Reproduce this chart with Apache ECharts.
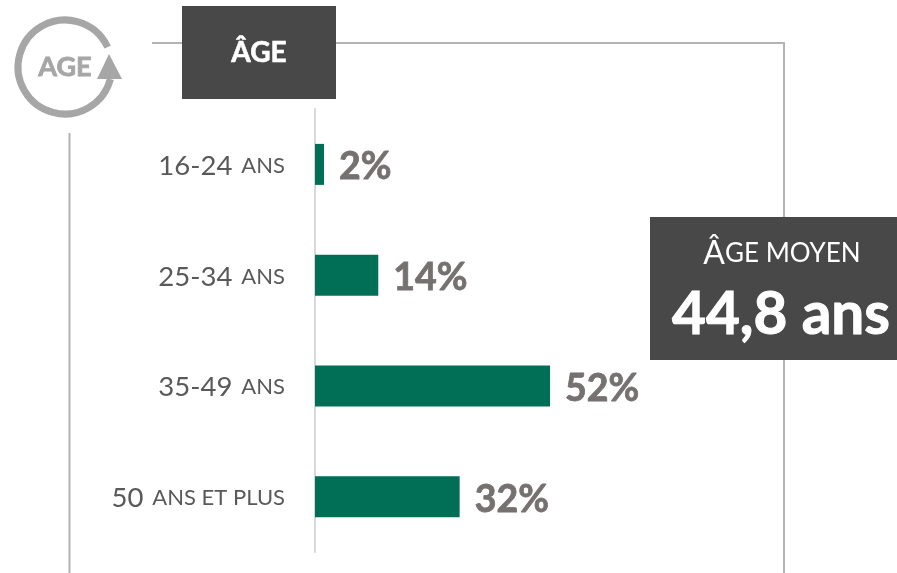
<!DOCTYPE html>
<html>
<head>
<meta charset="utf-8">
<style>
html, body { margin: 0; padding: 0; background: #fff; }
#main { width: 897px; height: 573px; }
</style>
<script src="https://cdn.jsdelivr.net/npm/echarts@6/dist/echarts.min.js"></script>
</head>
<body>
<div id="main"></div>
<script>
var ages = ['16-24', '25-34', '35-49', '50'];
var ageUnits = ['ANS', 'ANS', 'ANS', 'ANS ET PLUS'];
var shares = [2, 14, 52, 32];

var font = 'Lato';
var chart = echarts.init(document.getElementById('main'));

chart.setOption({
    animation: false,
    backgroundColor: '#fff',
    textStyle: { fontFamily: font },
    grid: { left: 315, top: 109, width: 452, height: 443 },
    xAxis: { type: 'value', min: 0, max: 100, show: false },
    yAxis: {
        type: 'category',
        inverse: true,
        offset: 1,
        data: ages,
        axisTick: { show: false },
        axisLine: { lineStyle: { color: '#d9d9d9', width: 2 } },
        axisLabel: {
            margin: 29,
            padding: [3, 0, 0, 0],
            formatter: (value, index) => {
                return '{num|' + value + '}{unit|' + ageUnits[index] + '}';
            },
            rich: {
                num: { fontFamily: font, fontSize: 27.5, color: '#595959' },
                unit: { fontFamily: font, fontSize: 22, color: '#595959', padding: [0, 0, 0, 9] }
            }
        }
    },
    series: [{
        type: 'bar',
        data: shares,
        barWidth: 41,
        itemStyle: { color: '#006f55' },
        label: {
            show: true,
            position: 'right',
            distance: 15,
            offset: [0, 3],
            formatter: '{c}%',
            fontFamily: font,
            fontSize: 37.5,
            fontWeight: 'bold',
            color: '#767171',
            textBorderColor: '#767171',
            textBorderWidth: 0.8
        }
    }],
    graphic: [
        // frame
        { type: 'polyline', shape: { points: [[152, 43], [784, 43], [784, 573]] }, style: { stroke: '#b3b3b3', lineWidth: 2, fill: null } },
        { type: 'line', shape: { x1: 69.5, y1: 133, x2: 69.5, y2: 573 }, style: { stroke: '#b3b3b3', lineWidth: 2 } },
        // title box
        { type: 'rect', shape: { x: 182, y: 6, width: 154, height: 93 }, style: { fill: '#484848' } },
        { type: 'text', x: 259, y: 53, style: { text: 'ÂGE', fill: '#fff', font: 'bold 28px ' + font, stroke: '#fff', lineWidth: 0.6, align: 'center', verticalAlign: 'middle' } },
        // age icon
        { type: 'arc', shape: { cx: 65, cy: 67, r: 47, startAngle: 15 * Math.PI / 180, endAngle: 335 * Math.PI / 180, clockwise: true }, style: { stroke: '#a6a6a6', lineWidth: 7, fill: null } },
        { type: 'polygon', shape: { points: [[109, 54], [122, 79], [97, 79]] }, style: { fill: '#a6a6a6' } },
        { type: 'text', x: 65, y: 67, style: { text: 'AGE', fill: '#a6a6a6', font: 'bold 27px ' + font, stroke: '#a6a6a6', lineWidth: 0.8, align: 'center', verticalAlign: 'middle' } },
        // average box
        { type: 'rect', shape: { x: 650, y: 217, width: 247, height: 143 }, style: { fill: '#484848' } },
        {
            type: 'text', x: 782, y: 254,
            style: {
                text: '{a|Â}{b|GE MOYEN}',
                fill: '#fff',
                align: 'center',
                verticalAlign: 'middle',
                rich: {
                    a: { fontFamily: font, fontSize: 32, fill: '#fff', color: '#fff' },
                    b: { fontFamily: font, fontSize: 26, fill: '#fff', color: '#fff' }
                }
            }
        },
        { type: 'text', x: 781, y: 315, style: { text: '44,8 ans', fill: '#fff', font: 'bold 58.5px ' + font, stroke: '#fff', lineWidth: 1, align: 'center', verticalAlign: 'middle' } }
    ]
});
</script>
</body>
</html>
